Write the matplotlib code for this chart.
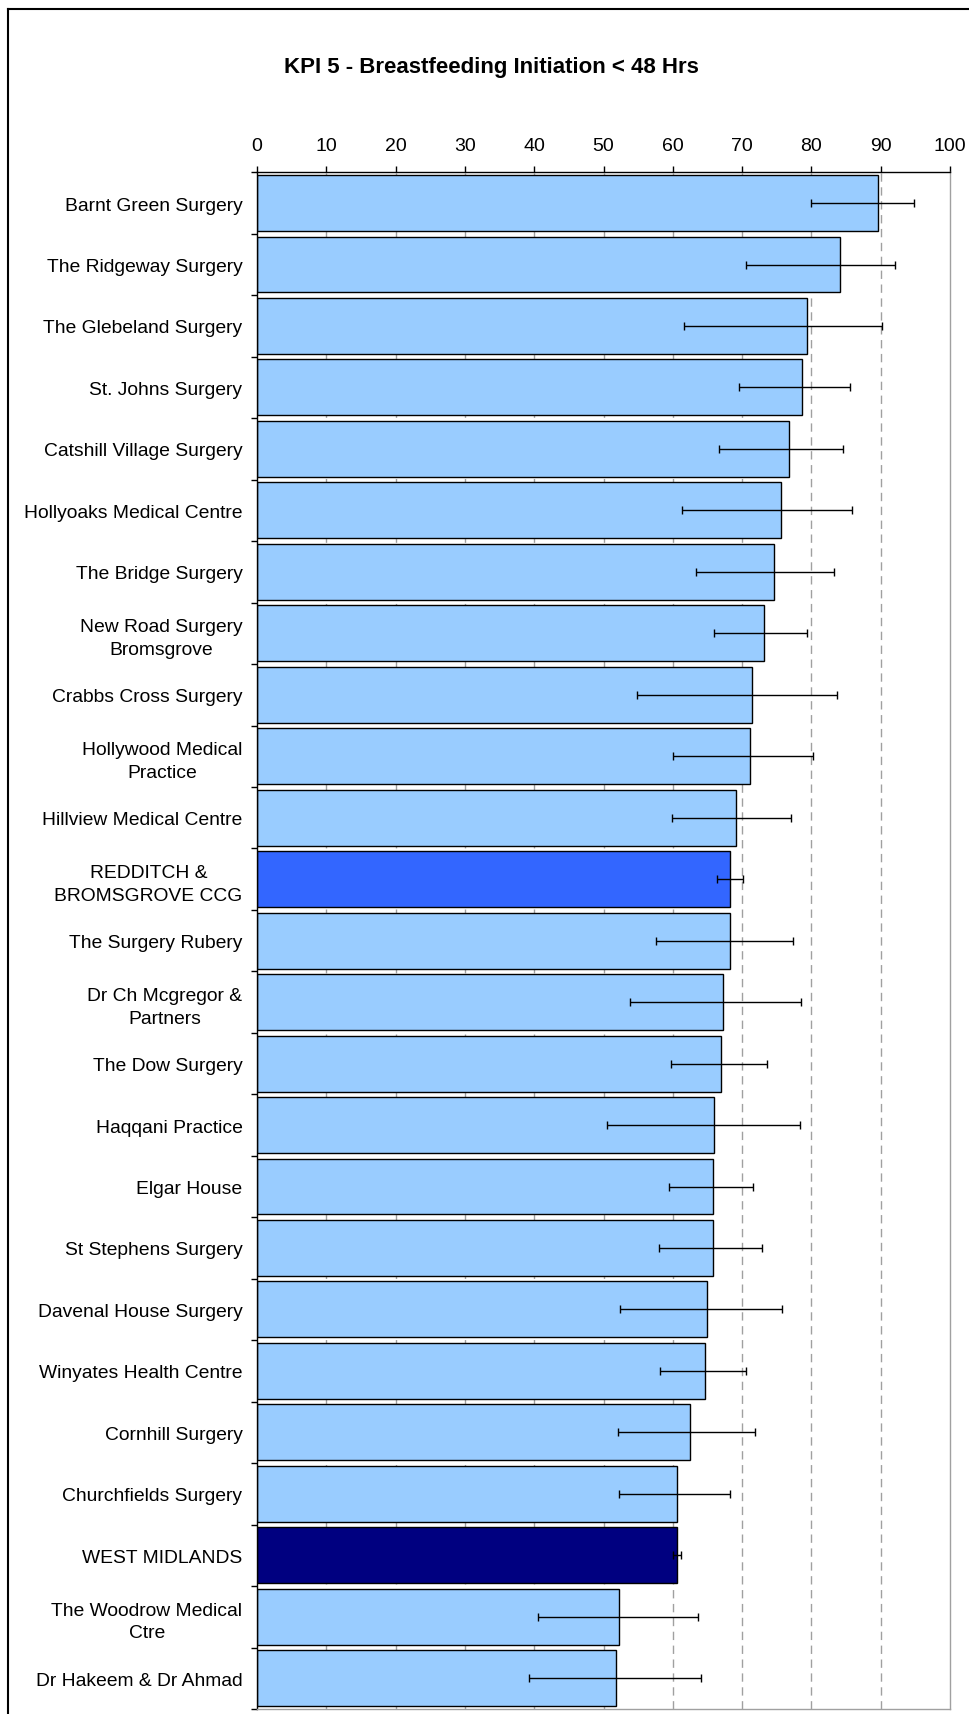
import matplotlib
matplotlib.use("Agg")
import matplotlib.pyplot as plt
from matplotlib.lines import Line2D
import numpy as np

plt.rcParams['font.family'] = ['Liberation Sans', 'DejaVu Sans']

categories = [
    "Barnt Green Surgery", "The Ridgeway Surgery", "The Glebeland Surgery",
    "St. Johns Surgery", "Catshill Village Surgery", "Hollyoaks Medical Centre",
    "The Bridge Surgery", "New Road Surgery\nBromsgrove", "Crabbs Cross Surgery",
    "Hollywood Medical\nPractice", "Hillview Medical Centre",
    "REDDITCH &\nBROMSGROVE CCG", "The Surgery Rubery",
    "Dr Ch Mcgregor &\nPartners", "The Dow Surgery", "Haqqani Practice",
    "Elgar House", "St Stephens Surgery", "Davenal House Surgery",
    "Winyates Health Centre", "Cornhill Surgery", "Churchfields Surgery",
    "WEST MIDLANDS", "The Woodrow Medical\nCtre", "Dr Hakeem & Dr Ahmad",
]
values = [89.6, 84.1, 79.3, 78.6, 76.8, 75.6, 74.6, 73.2, 71.4, 71.2, 69.1,
          68.3, 68.3, 67.3, 67.0, 65.9, 65.8, 65.8, 65.0, 64.6, 62.5, 60.6,
          60.6, 52.3, 51.8]
ci_low = [80.0, 70.5, 61.6, 69.5, 66.6, 61.3, 63.4, 65.9, 54.9, 60.0, 59.9,
          66.4, 57.6, 53.8, 59.8, 50.5, 59.5, 58.0, 52.4, 58.2, 52.1, 52.3,
          60.0, 40.6, 39.3]
ci_high = [94.8, 92.1, 90.2, 85.5, 84.6, 85.8, 83.3, 79.4, 83.7, 80.3, 77.0,
           70.2, 77.4, 78.5, 73.6, 78.4, 71.6, 72.8, 75.8, 70.5, 71.9, 68.3,
           61.2, 63.6, 64.1]
bar_types = ["practice"] * 25
bar_types[11] = "ccg"
bar_types[22] = "region"
x_ticks = list(range(0, 101, 10))
title = "KPI 5 - Breastfeeding Initiation < 48 Hrs"

color_map = {"practice": "#99CCFF", "ccg": "#3366FF", "region": "#000080"}
colors = [color_map[t] for t in bar_types]

W, H = 969, 1715
fig = plt.figure(figsize=(W / 100, H / 100), dpi=100)
ax = fig.add_axes([257 / W, 1 - 1710 / H, (950 - 257) / W, (1710 - 173.3) / H])

y = np.arange(len(categories))
ax.barh(y, values, height=0.91, color=colors, edgecolor="black",
        linewidth=1.0, zorder=2)
xerr = [np.array(values) - np.array(ci_low), np.array(ci_high) - np.array(values)]
ax.errorbar(values, y, xerr=xerr, fmt="none", ecolor="black", elinewidth=1.0,
            capsize=2.6, capthick=1.0, zorder=3)

ax.set_xlim(0, 100)
ax.set_ylim(len(categories) - 0.5, -0.5)

# dashed grid
for g in x_ticks[1:-1]:
    ax.axvline(g, color="#a0a0a0", linestyle=(0, (6, 4)), linewidth=1.0, zorder=1)

ax.xaxis.tick_top()
ax.set_xticks(x_ticks)
ax.set_xticklabels([str(t) for t in x_ticks])
ax.tick_params(axis="x", which="major", direction="out", length=4.3, width=1.0,
               labelsize=14, pad=9, color="black")

ax.set_yticks(np.arange(-0.5, len(categories), 1.0))
ax.set_yticklabels([])
ax.set_yticks(y, minor=True)
ax.set_yticklabels(categories, minor=True, ha="right", ma="center")
ax.tick_params(axis="y", which="major", direction="out", length=4.3, width=1.0,
               color="black")
ax.tick_params(axis="y", which="minor", length=0, labelsize=13.85, pad=10.5)
for lbl in ax.get_yticklabels(minor=True):
    lbl.set_linespacing(1.43)

ax.spines["top"].set_color("black")
ax.spines["left"].set_color("black")
ax.spines["right"].set_color("#a0a0a0")
ax.spines["bottom"].set_color("#a0a0a0")
for s in ax.spines.values():
    s.set_linewidth(1.0)

fig.text(491 / W, 1 - 68 / H, title, ha="center", va="center",
         fontsize=16, fontweight="bold")

# outer chart border (left and top)
fig.add_artist(Line2D([7.5 / W, 7.5 / W], [0, 1 - 10 / H], color="black",
                      linewidth=1.5, transform=fig.transFigure))
fig.add_artist(Line2D([7.5 / W, 1], [1 - 10 / H, 1 - 10 / H], color="black",
                      linewidth=1.5, transform=fig.transFigure))

fig.savefig("out.png", dpi=100)
